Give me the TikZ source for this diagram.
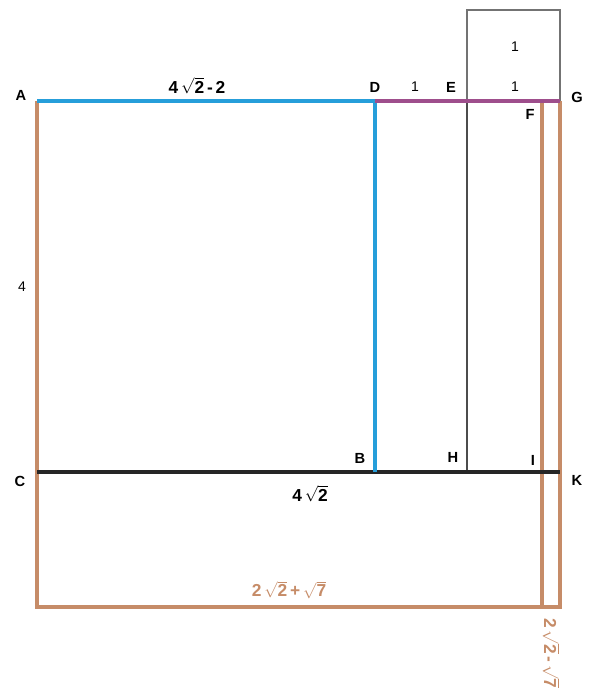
\documentclass[tikz,border=0pt]{standalone}
\usepackage{fontspec}
\setmainfont{Liberation Sans}
\begin{document}
\begin{tikzpicture}[x=0.75pt,y=-0.75pt,
  pt/.style={font=\bfseries\fontsize{11}{13}\selectfont, inner sep=0pt},
  expr/.style={font=\bfseries\fontsize{13}{15}\selectfont, inner sep=0pt},
  num/.style={font=\fontsize{10.5}{12}\selectfont, inner sep=0pt},
  blueline/.style={draw=blueC, line width=2.4pt},
  brownline/.style={draw=brownC, line width=2.3pt},
  purpline/.style={draw=purpC, line width=2.4pt},
  blackline/.style={draw=black!85, line width=2.3pt},
  greyline/.style={draw=black!55, line width=0.9pt}]
\definecolor{blueC}{RGB}{38,158,218}
\definecolor{brownC}{RGB}{198,140,104}
\definecolor{purpC}{RGB}{158,78,140}
\useasboundingbox (0,0) rectangle (592,697);
% coordinates
\coordinate (A) at (37,101);
\coordinate (D) at (375,101);
\coordinate (E) at (467,101);
\coordinate (G) at (560,101);
\coordinate (F) at (542,101);
\coordinate (C) at (37,472);
\coordinate (B) at (375,472);
\coordinate (H) at (467,472);
\coordinate (K) at (560,472);
\coordinate (P) at (37,607);
\coordinate (Q) at (560,607);
\coordinate (R) at (542,607);
\coordinate (T1) at (467,10);
\coordinate (T2) at (560,10);
% grey square and line
\draw[greyline] (E) -- (T1) -- (T2) -- (G);
\draw[greyline, draw=black!70] (E) -- (H);
% brown
\draw[brownline] (A) -- (P) -- (Q) -- (G);
\draw[brownline] (F) -- (R);
% black
\draw[blackline] (C) -- (K);
% blue
\draw[blueline] (A) -- (D);
\draw[blueline] (D) -- (B);
% purple
\draw[purpline] (D) -- (G);
% point labels
\node[pt] (lA) at (21,95) {A};
\node[pt] (lD) at (375,87) {D};
\node[pt] (lE) at (451,87) {E};
\node[pt] (lG) at (577,97) {G};
\node[pt] (lF) at (530,114) {F};
\node[pt] (lB) at (360,458) {B};
\node[pt] (lH) at (453,457) {H};
\node[pt] (lI) at (533,460) {I};
\node[pt] (lC) at (20,481) {C};
\node[pt] (lK) at (577,480) {K};
% numbers
\node[num] (n1) at (515,47) {1};
\node[num] (n2) at (515,87) {1};
\node[num] (n3) at (415,87) {1};
\node[num] (n4) at (22,287) {4};
\node[expr] (s1) at (197,86) {4\,$\sqrt{\mbox{\bfseries 2}}$\,-\,2};
\node[expr] (s2) at (310,494) {4\,$\sqrt{\mbox{\bfseries 2}}$};
\node[expr, text=brownC] (s3) at (289,590) {2\,$\sqrt{\mbox{\bfseries 2}}$\,+\,$\sqrt{\mbox{\bfseries 7}}$};
\node[expr, text=brownC, rotate=-90, anchor=west] (s4) at (551,618) {2\,$\sqrt{\mbox{\bfseries 2}}$\,-\,$\sqrt{\mbox{\bfseries 7}}$};
\end{tikzpicture}
\end{document}
